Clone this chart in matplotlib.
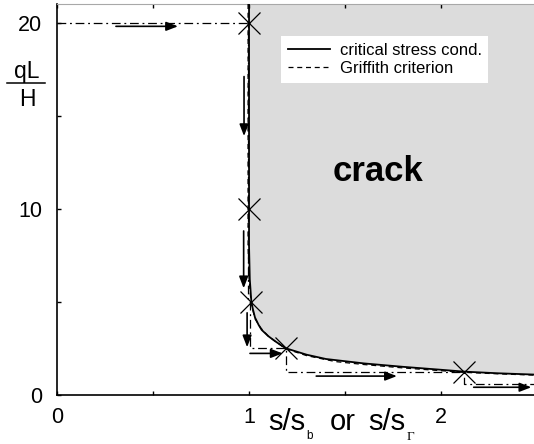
import matplotlib
matplotlib.use('Agg')
import matplotlib.pyplot as plt
from matplotlib.ticker import MultipleLocator
from matplotlib.lines import Line2D

plt.rcParams['font.family'] = ['Liberation Sans', 'DejaVu Sans']

# ---- data ----
crit_x = [1.0, 1.0, 1.004, 1.012, 1.02, 1.031, 1.05, 1.066, 1.1, 1.135, 1.19, 1.3, 1.4, 1.6, 1.8, 2.0, 2.12, 2.3, 2.49]
crit_y = [21.0, 8.0, 6.2, 5.0, 4.6, 4.15, 3.75, 3.48, 3.15, 2.88, 2.5, 2.15, 1.92, 1.68, 1.5, 1.34, 1.24, 1.15, 1.08]

griff_x = [0.995, 0.995, 1.0, 1.01, 1.03, 1.06, 1.1, 1.19, 1.3, 1.45, 1.6, 1.8, 2.0, 2.12, 2.3, 2.49]
griff_y = [21.0, 8.0, 6.3, 5.0, 4.1, 3.6, 3.15, 2.47, 2.1, 1.78, 1.62, 1.44, 1.29, 1.2, 1.12, 1.05]

path_x = [0.0, 0.997, 0.997, 1.006, 1.006, 1.19, 1.19, 2.12, 2.12, 2.49]
path_y = [20.0, 20.0, 5.0, 5.0, 2.5, 2.5, 1.22, 1.22, 0.6, 0.6]

cross_x = [1.0, 1.0, 1.012, 1.19, 2.12]
cross_y = [20.0, 10.0, 5.0, 2.5, 1.2]

arrow_x0 = [0.307, 0.974, 0.972, 0.99, 1.005, 1.35, 2.17]
arrow_y0 = [19.8, 17.1, 8.8, 4.4, 2.22, 1.0, 0.4]
arrow_x1 = [0.63, 0.974, 0.972, 0.99, 1.175, 1.77, 2.47]
arrow_y1 = [19.8, 13.9, 5.72, 2.55, 2.22, 1.0, 0.4]

x_ticks = [0, 1, 2]
y_ticks = [0, 10, 20]
legend_labels = ['critical stress cond.', 'Griffith criterion']

# ---- figure ----
W, H = 534, 444
fig = plt.figure(figsize=(W / 100, H / 100), dpi=100)
ax = fig.add_axes([57 / W, (H - 394.7) / H, (W - 57) / W, (394.7 - 4) / H])
ax.set_xlim(0, 2.484)
ax.set_ylim(0, 21)

ax.fill_between(crit_x, crit_y, 21, color='#dcdcdc', lw=0, zorder=0)

l1, = ax.plot(crit_x, crit_y, color='k', lw=1.3, zorder=3)
l2, = ax.plot(griff_x, griff_y, color='k', lw=0.9, ls=(0, (4, 3)), zorder=3)
ax.plot(path_x, path_y, color='k', lw=0.9, ls=(0, (7, 3, 1.5, 3)), zorder=3)
ax.plot(cross_x, cross_y, ls='none', marker='x', ms=16, mew=0.9, color='k', zorder=4)

for xa, ya, xb, yb in zip(arrow_x0, arrow_y0, arrow_x1, arrow_y1):
    ax.annotate('', xy=(xb, yb), xytext=(xa, ya),
                arrowprops=dict(arrowstyle='-|>,head_length=0.7,head_width=0.27',
                                mutation_scale=10, lw=1.2, color='k',
                                shrinkA=0, shrinkB=0), zorder=5)

ax.text(1.67, 12.0, 'crack', fontsize=25, fontweight='bold', ha='center', va='center')

leg = ax.legend([l1, l2], legend_labels, loc='upper left', bbox_to_anchor=(0.47, 0.918),
                borderaxespad=0, fontsize=12, frameon=True, fancybox=False,
                facecolor='white', edgecolor='none', framealpha=1,
                borderpad=0.4, labelspacing=0.2, handlelength=2.5, handletextpad=0.6)

# spines & ticks
ax.spines['right'].set_visible(False)
ax.spines['top'].set_color('#a8a8a8')
ax.spines['top'].set_linewidth(0.8)
ax.spines['left'].set_linewidth(1.2)
ax.spines['bottom'].set_linewidth(1.2)
ax.set_xticks(x_ticks)
ax.set_yticks(y_ticks)
ax.xaxis.set_minor_locator(MultipleLocator(0.5))
ax.yaxis.set_minor_locator(MultipleLocator(5))
ax.tick_params(which='both', direction='in', length=3, width=1, top=True, right=False)
ax.tick_params(axis='x', labelsize=15.5, pad=8.5)
ax.tick_params(axis='y', labelsize=15.5, pad=10.5)

def P(x, y):
    return (x / W, 1 - y / H)

# y label as a fraction
fig.text(*P(26.5, 78.3), 'qL', ha='center', va='baseline', fontsize=16.5)
fig.add_artist(Line2D([7.3 / W, 45 / W], [1 - 83.3 / H] * 2, color='k', lw=1.1))
fig.text(*P(27, 106), 'H', ha='center', va='baseline', fontsize=16.5)

# x label pieces
fig.text(*P(268, 430), 's/s', ha='left', va='baseline', fontsize=21)
fig.text(*P(306, 438.5), 'b', ha='left', va='baseline', fontsize=8.5)
fig.text(*P(330, 430), 'or', ha='left', va='baseline', fontsize=21)
fig.text(*P(368.3, 430), 's/s', ha='left', va='baseline', fontsize=21)
fig.text(*P(407, 439.5), '\u0393', ha='left', va='baseline', fontsize=9.5, family='Liberation Serif')

fig.savefig('out.png', dpi=100)
